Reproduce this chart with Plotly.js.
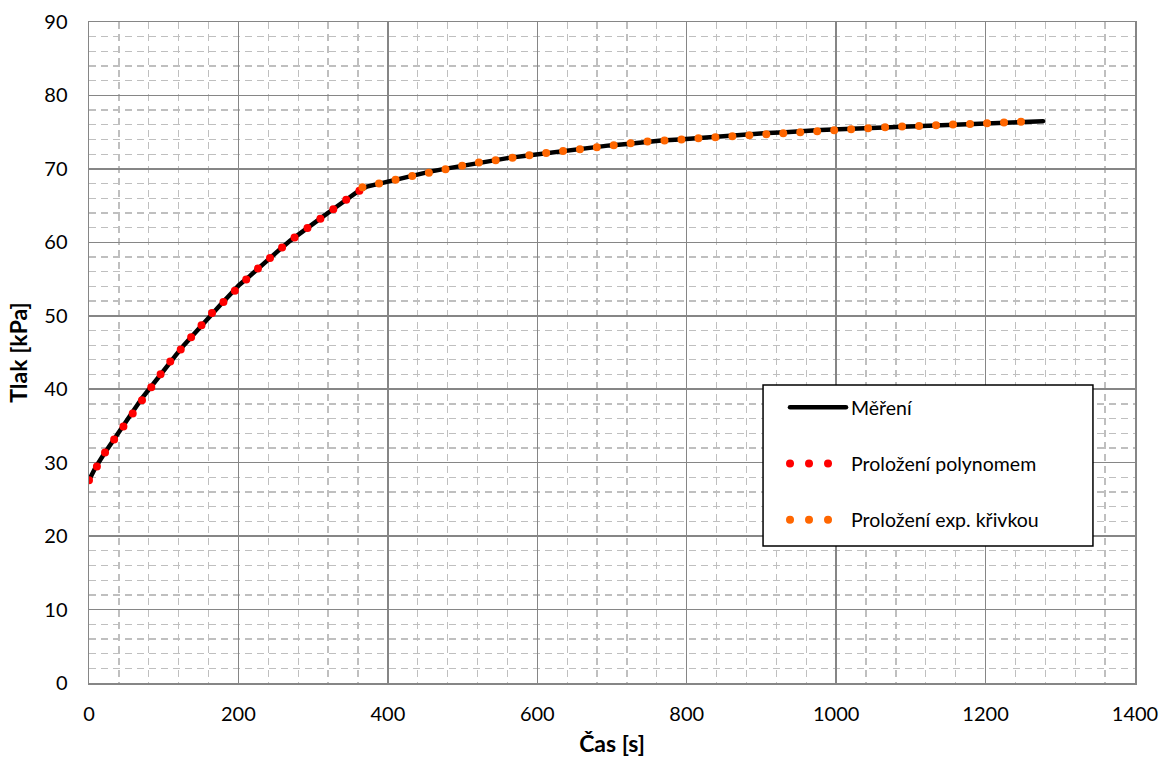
<!DOCTYPE html>
<html>
<head>
<meta charset="utf-8">
<script src="https://cdn.plot.ly/plotly-3.0.1.min.js"></script>
<style>
html,body{margin:0;padding:0;background:#fff;}
#chart{width:1166px;height:767px;}
.scatterlayer .js-line, .legend .js-line { stroke-linecap: round !important; }
.legend .js-line[style*="dasharray: 0px"] { stroke-dasharray: 0px 19px !important; }
</style>
</head>
<body>
<div id="chart"></div>
<script>
// Measured pressure (Měření)
const measTime = [0, 9, 19, 29, 40, 50, 61, 71, 82, 93, 104, 116, 127, 139, 151, 163, 176, 188, 201, 215, 228, 241, 255, 269, 283, 298, 313, 328, 343, 358, 372, 392, 413, 434, 455, 476, 498, 518, 540, 562, 585, 607, 630, 652, 675, 697, 720, 743, 766, 790, 813, 837, 861, 884, 908, 932, 955, 979, 1004, 1027, 1052, 1076, 1100, 1124, 1148, 1172, 1197, 1222, 1246, 1270, 1277];
const measValue = [27.6, 29.4, 31.0, 32.5, 34.1, 35.7, 37.3, 38.8, 40.2, 41.7, 43.2, 44.6, 46.0, 47.4, 48.8, 50.2, 51.5, 52.8, 54.2, 55.4, 56.6, 57.9, 59.0, 60.2, 61.3, 62.4, 63.5, 64.6, 65.7, 66.8, 67.6, 68.1, 68.6, 69.1, 69.6, 70.0, 70.4, 70.8, 71.2, 71.5, 71.8, 72.1, 72.4, 72.7, 72.9, 73.2, 73.4, 73.7, 73.85, 74.0, 74.2, 74.4, 74.6, 74.75, 74.9, 75.0, 75.2, 75.3, 75.4, 75.5, 75.6, 75.75, 75.8, 75.95, 76.05, 76.15, 76.25, 76.3, 76.4, 76.5, 76.5];

// Polynomial fit (Proložení polynomem)
const polyTime = [0, 9, 19, 29, 40, 50, 61, 71, 82, 93, 104, 116, 127, 139, 151, 163, 176, 188, 201, 215, 228, 241, 255, 269, 283, 298, 313, 328, 343, 358, 365];
const polyValue = [27.6, 29.4, 31.0, 32.5, 34.1, 35.7, 37.3, 38.8, 40.2, 41.7, 43.2, 44.6, 46.0, 47.4, 48.8, 50.2, 51.5, 52.8, 54.2, 55.4, 56.6, 57.9, 59.0, 60.2, 61.3, 62.4, 63.5, 64.6, 65.7, 66.8, 67.2];

// Exponential fit (Proložení exp. křivkou)
const expTime = [366, 372, 392, 413, 434, 455, 476, 498, 518, 540, 562, 585, 607, 630, 652, 675, 697, 720, 743, 766, 790, 813, 837, 861, 884, 908, 932, 955, 979, 1004, 1027, 1052, 1076, 1100, 1124, 1148, 1172, 1197, 1222, 1246, 1270];
const expValue = [67.5, 67.6, 68.1, 68.6, 69.1, 69.6, 70.0, 70.4, 70.8, 71.2, 71.5, 71.8, 72.1, 72.4, 72.7, 72.9, 73.2, 73.4, 73.7, 73.85, 74.0, 74.2, 74.4, 74.6, 74.75, 74.9, 75.0, 75.2, 75.3, 75.4, 75.5, 75.6, 75.75, 75.8, 75.95, 76.05, 76.15, 76.25, 76.3, 76.4, 76.5];

const names = ["Měření", "Proložení polynomem", "Proložení exp. křivkou"];
const xTicks = [0, 200, 400, 600, 800, 1000, 1200, 1400];
const yTicks = [0, 10, 20, 30, 40, 50, 60, 70, 80, 90];

const FONT = "Lato, 'Open Sans', 'Liberation Sans', sans-serif";

const traces = [
  {x: measTime, y: measValue, name: names[0], mode: "lines", legendgroup: "a",
   line: {color: "#000000", width: 4.5}},
  {x: polyTime, y: polyValue, name: names[1], mode: "lines", legendgroup: "b",
   line: {color: "#FF0000", width: 8, dash: "0px,16px"}},
  {x: expTime, y: expValue, name: names[2], mode: "lines", legendgroup: "c",
   line: {color: "#FF6600", width: 8, dash: "0px,17px"}}
];

function axis(ticks, minorStep, extra) {
  return Object.assign({
    range: [ticks[0], ticks[ticks.length - 1]],
    tickmode: "linear", tick0: ticks[0], dtick: ticks[1] - ticks[0],
    showline: true, linecolor: "#868686", linewidth: 1.5, mirror: true,
    showgrid: true, gridcolor: "#868686", gridwidth: 1.5,
    zeroline: false, ticks: "",
    tickfont: {family: FONT, size: 20, color: "#000"},
    minor: {showgrid: true, gridcolor: "#BFBFBF", gridwidth: 1.3, griddash: "7px,5px",
            tick0: ticks[0], dtick: minorStep, ticks: ""}
  }, extra);
}

const layout = {
  width: 1166, height: 767,
  margin: {l: 89, r: 31, t: 22, b: 84},
  paper_bgcolor: "#fff", plot_bgcolor: "#fff",
  showlegend: true,
  xaxis: axis(xTicks, 40, {
    ticklabelstandoff: 12,
    title: {text: "Čas [s]", font: {family: FONT, size: 23, color: "#000", weight: "bold"}, standoff: 12}
  }),
  yaxis: axis(yTicks, 2, {
    ticklabelstandoff: 16,
    title: {text: "Tlak [kPa]", font: {family: FONT, size: 23, color: "#000", weight: "bold"}, standoff: 10}
  }),
  shapes: [{
    type: "rect", xref: "paper", yref: "paper",
    x0: 0.6444, x1: 0.9598, y0: 0.2073, y1: 0.4508,
    fillcolor: "#fff", line: {color: "#000", width: 1.5}, layer: "above"
  }],
  legend: {
    x: 0.6654, y: 0.4463, xanchor: "left", yanchor: "top",
    bgcolor: "rgba(0,0,0,0)", borderwidth: 0,
    font: {family: FONT, size: 19.5, color: "#000"},
    traceorder: "grouped", tracegroupgap: 28, itemwidth: 56
  }
};

Plotly.newPlot("chart", traces, layout, {displayModeBar: false, staticPlot: true});
</script>
</body>
</html>
